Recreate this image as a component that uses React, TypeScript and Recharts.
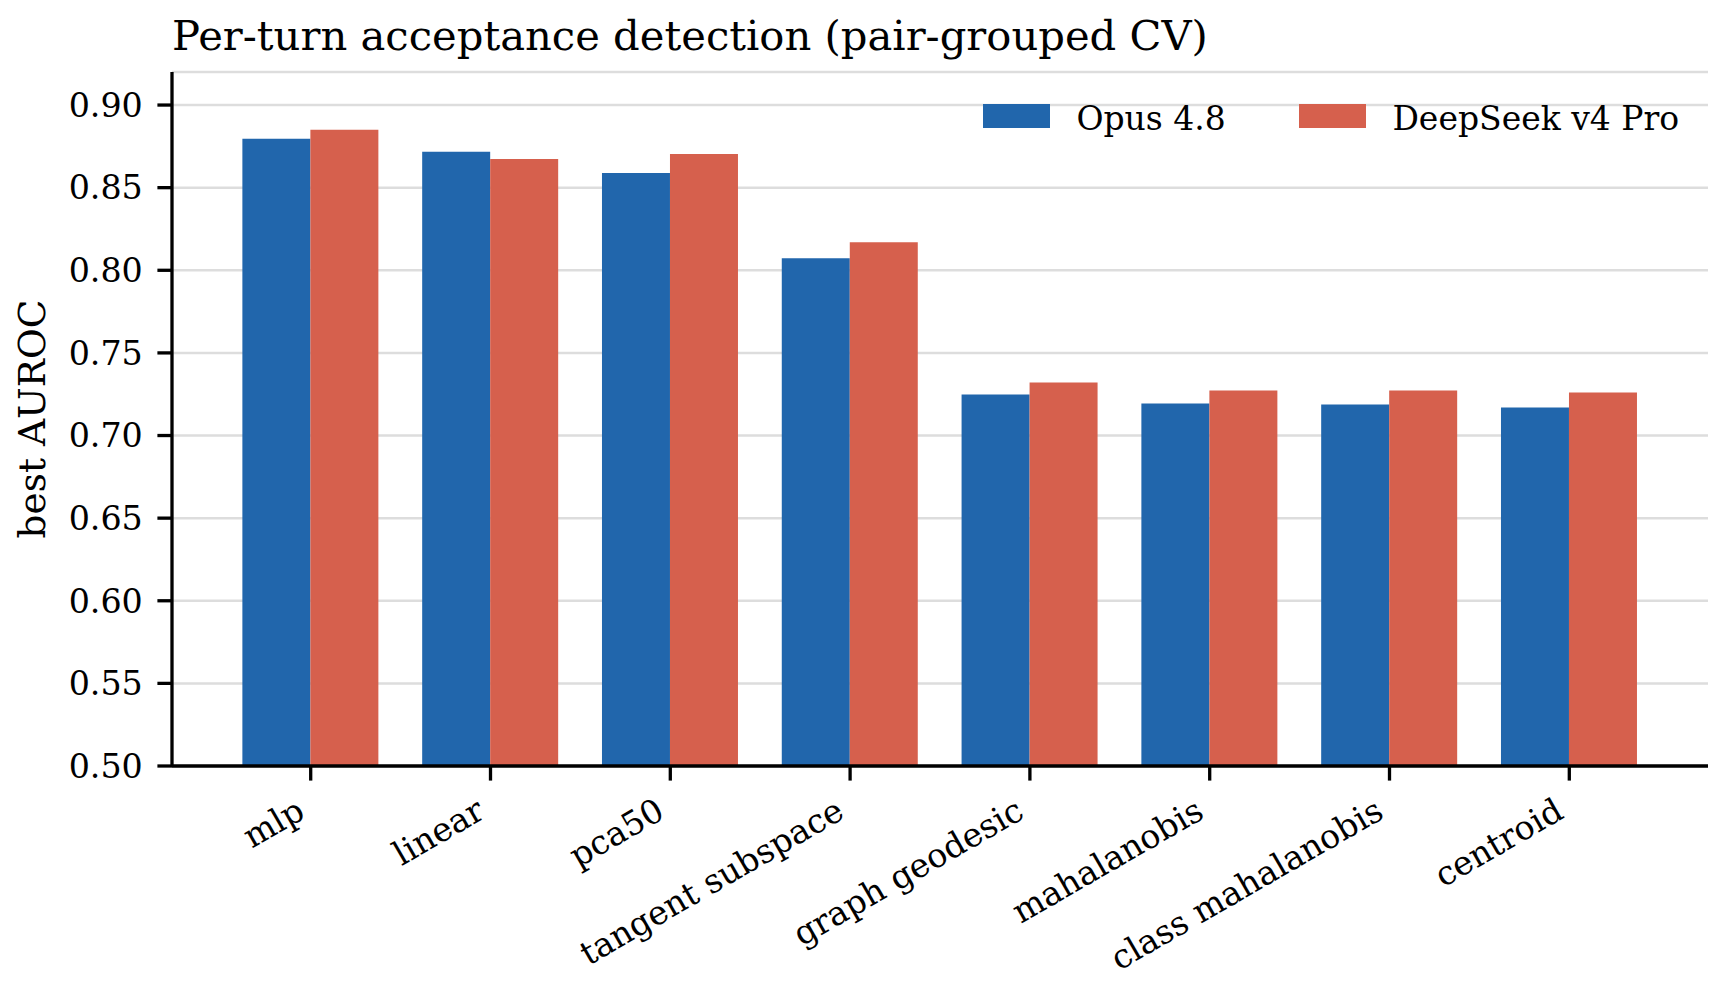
import React from 'react';
import { BarChart, Bar, XAxis, YAxis, CartesianGrid, Legend } from 'recharts';

const categories = [
  'mlp',
  'linear',
  'pca50',
  'tangent subspace',
  'graph geodesic',
  'mahalanobis',
  'class mahalanobis',
  'centroid',
];
const opusValues = [0.8796, 0.8717, 0.8589, 0.8073, 0.7248, 0.7194, 0.7188, 0.7169];
const deepseekValues = [0.885, 0.8674, 0.8704, 0.817, 0.7321, 0.7272, 0.7272, 0.726];
const yTicks = [0.5, 0.55, 0.6, 0.65, 0.7, 0.75, 0.8, 0.85, 0.9];

const seriesNames = ['Opus 4.8', 'DeepSeek v4 Pro'];
const seriesColors = ['#2166ac', '#d6604d'];

const data = categories.map((name, i) => ({
  name,
  opus: opusValues[i],
  deepseek: deepseekValues[i],
}));

const FONT = "'DejaVu Serif', serif";

// rotated x labels, right/top of the rotated box hanging off the tick
const XTick = (props: any) => {
  const { x, y, payload } = props;
  const ax = x - 3.9;
  const ay = y + 21.9;
  return (
    <text
      x={ax}
      y={ay}
      textAnchor="end"
      fontSize={33.3}
      fontFamily={FONT}
      fill="#000"
      transform={`rotate(-30, ${ax}, ${ay})`}
    >
      {payload.value}
    </text>
  );
};

const LegendBox = () => (
  <div style={{ position: 'relative', width: 0, height: 0 }}>
    {seriesNames.map((name, i) => {
      const left = i === 0 ? 983 : 1299;
      return (
        <React.Fragment key={name}>
          <div
            style={{
              position: 'absolute',
              left,
              top: 104,
              width: 66.7,
              height: 23.5,
              background: seriesColors[i],
            }}
          />
          <div
            style={{
              position: 'absolute',
              left: left + 93.4,
              top: 102,
              fontSize: 33,
              lineHeight: 1,
              fontFamily: FONT,
              color: '#000',
              whiteSpace: 'nowrap',
            }}
          >
            {name}
          </div>
        </React.Fragment>
      );
    })}
  </div>
);

const App = () => {
  return (
    <div
      style={{
        position: 'absolute',
        left: 0,
        top: 0,
        width: 1721,
        height: 983,
        background: '#fff',
        fontFamily: FONT,
      }}
    >
      <div
        style={{
          position: 'absolute',
          left: 172,
          top: 14.7,
          fontSize: 41.7,
          lineHeight: 1,
          whiteSpace: 'nowrap',
          color: '#000',
          zIndex: 2,
        }}
      >
        Per-turn acceptance detection (pair-grouped CV)
      </div>
      <BarChart
        width={1721}
        height={983}
        data={data}
        margin={{ top: 72, right: 13, bottom: 0, left: 0 }}
        barCategoryGap="12%"
        barGap={0}
      >
        <CartesianGrid horizontal vertical={false} stroke="#dddddd" strokeWidth={2.5} />
        <XAxis
          dataKey="name"
          interval={0}
          height={217}
          padding={{ left: 48.8, right: 48.8 }}
          axisLine={{ stroke: '#000', strokeWidth: 3.3 }}
          tickLine={{ stroke: '#000', strokeWidth: 3.3 }}
          tickSize={14.6}
          tickMargin={14.6}
          tick={<XTick />}
        />
        <YAxis
          type="number"
          width={172}
          domain={[0.5, 0.92]}
          allowDataOverflow
          ticks={yTicks}
          tickFormatter={(v: number) => v.toFixed(2)}
          axisLine={{ stroke: '#000', strokeWidth: 3.3 }}
          tickLine={{ stroke: '#000', strokeWidth: 3.3 }}
          tickSize={14.6}
          tickMargin={14.6}
          tick={{ fill: '#000', fontSize: 33.3, fontFamily: FONT }}
          label={{
            content: () => (
              <text
                x={45}
                y={419}
                textAnchor="middle"
                fontSize={37.5}
                fontFamily={FONT}
                fill="#000"
                transform="rotate(-90, 45, 419)"
              >
                best AUROC
              </text>
            ),
          }}
        />
        <Legend
          layout="horizontal"
          verticalAlign="middle"
          align="center"
          wrapperStyle={{ left: 0, top: 0, width: 0, height: 0 }}
          content={<LegendBox />}
        />
        <Bar dataKey="opus" name={seriesNames[0]} fill={seriesColors[0]} isAnimationActive={false} />
        <Bar dataKey="deepseek" name={seriesNames[1]} fill={seriesColors[1]} isAnimationActive={false} />
      </BarChart>
    </div>
  );
};

export default App;
